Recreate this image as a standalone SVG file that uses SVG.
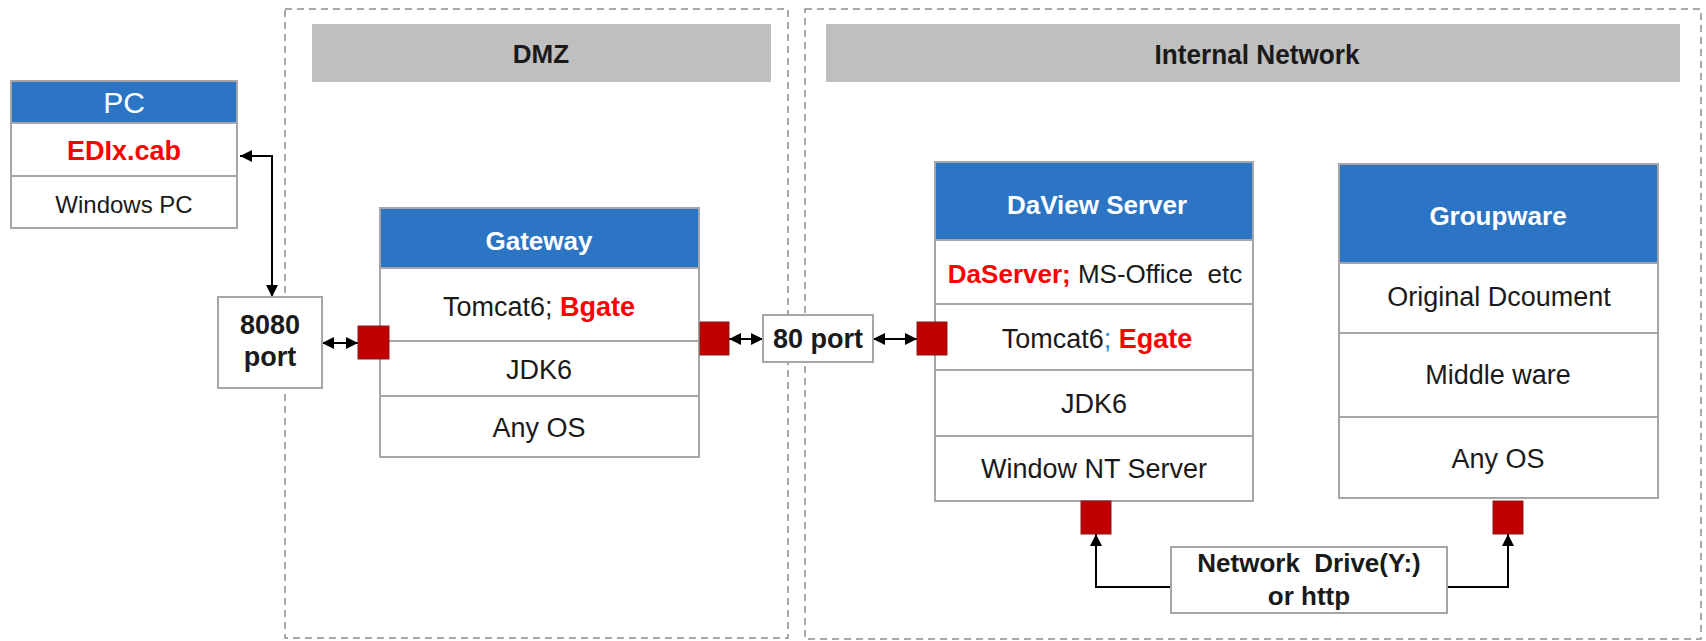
<svg xmlns="http://www.w3.org/2000/svg" width="1706" height="641" viewBox="0 0 1706 641">
<style>
.box{fill:#fff;stroke:#A6A6A6;stroke-width:2}
.hdr{fill:#2C74C4;stroke:#A6A6A6;stroke-width:2}
.dv{stroke:#A6A6A6;stroke-width:2}
.sq{fill:#C00000;stroke:#8B1A1A;stroke-width:1}
.zone{fill:none;stroke:#8C8C8C;stroke-width:1.5;stroke-dasharray:7 5}
.band{fill:#BFBFBF}
.t{font-family:'Liberation Sans',Arial,sans-serif;font-size:27px;text-anchor:middle;fill:#1a1a1a}
.w{fill:#fff;font-weight:bold;font-size:26px}
.r{fill:#FF0000;font-weight:bold}
.b{font-weight:bold}
.bl{fill:#1E88E5}
.conn{fill:none;stroke:#000;stroke-width:2}
</style>
<defs>
<marker id="ah" viewBox="0 0 10 10" refX="10" refY="5" markerWidth="12" markerHeight="12" markerUnits="userSpaceOnUse" orient="auto-start-reverse">
<path d="M0,0 L10,5 L0,10 z" fill="#000"/>
</marker>
</defs>
<rect width="1706" height="641" fill="#fff"/>

<g id="zone-dmz">
<rect class="zone" x="285" y="9" width="503" height="629"/>
<rect class="band" x="312" y="24" width="459" height="58"/>
<text class="t b" x="541" y="63" style="font-size:26px">DMZ</text>
</g>
<g id="zone-internal">
<rect class="zone" x="805" y="9" width="896" height="630"/>
<rect class="band" x="826" y="24" width="854" height="58"/>
<text class="t b" x="1257" y="64" textLength="205" lengthAdjust="spacingAndGlyphs" style="font-size:28px">Internal Network</text>
</g>

<g id="connectors">
<path class="conn" d="M240,156 H272 V297" marker-start="url(#ah)" marker-end="url(#ah)"/>
<path class="conn" d="M322,343 H358" marker-start="url(#ah)" marker-end="url(#ah)"/>
<path class="conn" d="M729,339 H763" marker-start="url(#ah)" marker-end="url(#ah)"/>
<path class="conn" d="M873,339 H917" marker-start="url(#ah)" marker-end="url(#ah)"/>
<path class="conn" d="M1171,587 H1096 V534" marker-end="url(#ah)"/>
<path class="conn" d="M1447,587 H1508 V534" marker-end="url(#ah)"/>
</g>

<g id="pc">
<rect class="box" x="11" y="81" width="226" height="147"/>
<rect class="hdr" x="11" y="81" width="226" height="42"/>
<line class="dv" x1="11" y1="176" x2="237" y2="176"/>
<text class="t" x="124" y="113" style="fill:#fff;font-size:30px">PC</text>
<text class="t r" x="124" y="160">EDIx.cab</text>
<text class="t" x="124" y="213" style="font-size:24px">Windows PC</text>
</g>

<g id="port8080">
<rect class="box" x="218" y="297" width="104" height="91"/>
<text class="t b" x="270" y="334">8080</text>
<text class="t b" x="270" y="366">port</text>
</g>

<g id="gateway">
<rect class="box" x="380" y="208" width="319" height="249"/>
<rect class="hdr" x="380" y="208" width="319" height="60"/>
<line class="dv" x1="380" y1="341" x2="699" y2="341"/>
<line class="dv" x1="380" y1="396" x2="699" y2="396"/>
<text class="t w" x="539" y="250">Gateway</text>
<text class="t" x="539" y="316">Tomcat6; <tspan class="r">Bgate</tspan></text>
<text class="t" x="539" y="379">JDK6</text>
<text class="t" x="539" y="437">Any OS</text>
<rect class="sq" x="358" y="326" width="31" height="33"/>
<rect class="sq" x="700" y="322" width="29" height="33"/>
</g>

<g id="port80">
<rect class="box" x="763" y="315" width="110" height="47"/>
<text class="t b" x="818" y="348">80 port</text>
</g>

<g id="daview">
<rect class="box" x="935" y="162" width="318" height="339"/>
<rect class="hdr" x="935" y="162" width="318" height="78"/>
<line class="dv" x1="935" y1="304" x2="1253" y2="304"/>
<line class="dv" x1="935" y1="370" x2="1253" y2="370"/>
<line class="dv" x1="935" y1="436" x2="1253" y2="436"/>
<text class="t w" x="1097" y="214">DaView Server</text>
<text class="t" x="1095" y="283" xml:space="preserve" style="font-size:26px"><tspan class="r">DaServer;</tspan> MS-Office  etc</text>
<text class="t" x="1097" y="348">Tomcat6<tspan class="bl">;</tspan> <tspan class="r">Egate</tspan></text>
<text class="t" x="1094" y="413">JDK6</text>
<text class="t" x="1094" y="478">Window NT Server</text>
<rect class="sq" x="917" y="322" width="30" height="33"/>
<rect class="sq" x="1081" y="501" width="30" height="33"/>
</g>

<g id="groupware">
<rect class="box" x="1339" y="164" width="319" height="334"/>
<rect class="hdr" x="1339" y="164" width="319" height="99"/>
<line class="dv" x1="1339" y1="333" x2="1658" y2="333"/>
<line class="dv" x1="1339" y1="417" x2="1658" y2="417"/>
<text class="t w" x="1498" y="225">Groupware</text>
<text class="t" x="1499" y="306">Original Dcoument</text>
<text class="t" x="1498" y="384">Middle ware</text>
<text class="t" x="1498" y="468">Any OS</text>
<rect class="sq" x="1493" y="501" width="30" height="33"/>
</g>

<g id="netdrive">
<rect class="box" x="1171" y="547" width="276" height="66"/>
<text class="t b" x="1309" y="572" xml:space="preserve" style="font-size:26px">Network  Drive(Y:)</text>
<text class="t b" x="1309" y="605" style="font-size:26px">or http</text>
</g>
</svg>
